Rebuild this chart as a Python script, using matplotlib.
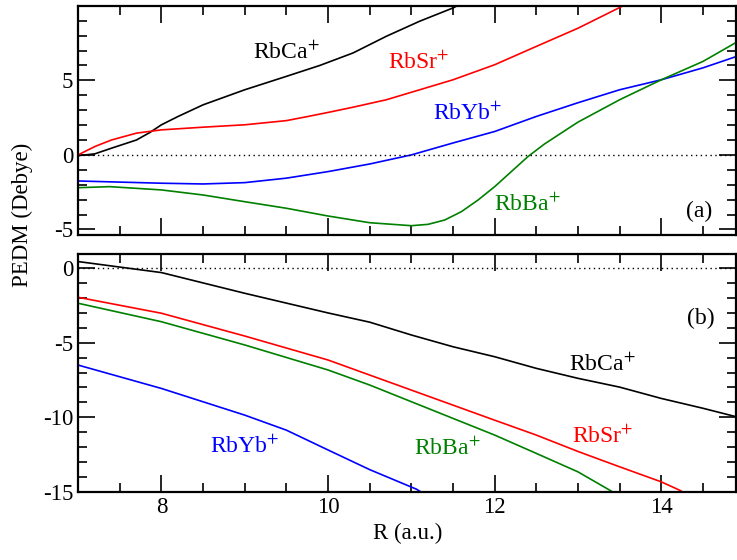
import numpy as np
import matplotlib.pyplot as plt
from matplotlib.ticker import MultipleLocator

plt.rcParams['font.family'] = ['Liberation Serif', 'DejaVu Serif']
plt.rcParams['mathtext.fontset'] = 'stix'
plt.rcParams['font.size'] = 16.5
plt.rcParams['axes.unicode_minus'] = False

# (a) upper panel
ca_a_r = [7.0, 7.2, 7.4, 7.7, 7.86, 8.0, 8.2, 8.5, 9.0, 9.5, 9.9, 10.3, 10.7, 11.1, 11.5, 11.6]
ca_a_d = [-0.05, 0.07, 0.45, 1.0, 1.5, 2.02, 2.58, 3.36, 4.37, 5.27, 6.0, 6.84, 7.96, 8.97, 9.86, 10.15]

sr_a_r = [7.0, 7.2, 7.4, 7.7, 8.0, 8.5, 9.0, 9.5, 9.76, 10.0, 10.3, 10.7, 11.1, 11.5, 12.0, 12.5,
          13.0, 13.54, 13.65]
sr_a_d = [0.0, 0.56, 1.0, 1.46, 1.68, 1.86, 2.02, 2.3, 2.58, 2.85, 3.2, 3.7, 4.37, 5.04, 6.05, 7.28,
          8.5, 10.0, 10.3]

yb_a_r = [7.0, 8.0, 8.5, 9.0, 9.5, 10.0, 10.5, 11.0, 11.5, 12.0, 12.5, 13.0, 13.5, 14.0, 14.5, 14.9]
yb_a_d = [-1.75, -1.9, -1.95, -1.86, -1.56, -1.12, -0.61, 0.0, 0.8, 1.57, 2.58, 3.5, 4.37, 5.04, 5.84, 6.6]

ba_a_r = [7.0, 7.38, 8.0, 8.5, 9.0, 9.5, 10.0, 10.5, 11.0, 11.2, 11.4, 11.6, 11.8, 12.0, 12.2, 12.4,
          12.6, 13.0, 13.5, 14.0, 14.5, 14.9]
ba_a_d = [-2.2, -2.13, -2.35, -2.69, -3.14, -3.58, -4.1, -4.55, -4.75, -4.66, -4.37, -3.81, -3.03, -2.13,
          -1.12, -0.11, 0.74, 2.2, 3.7, 5.04, 6.27, 7.55]

# (b) lower panel
ca_b_r = [7.0, 8.0, 9.0, 10.0, 10.5, 11.0, 11.5, 12.0, 12.5, 13.0, 13.5, 14.0, 14.5, 14.9]
ca_b_d = [0.45, -0.29, -1.68, -3.0, -3.62, -4.48, -5.27, -5.94, -6.72, -7.39, -7.98, -8.74, -9.4, -9.97]

sr_b_r = [7.0, 8.0, 9.0, 10.0, 10.5, 11.0, 11.5, 12.0, 12.5, 13.0, 13.5, 14.0, 14.22, 14.4]
sr_b_d = [-1.95, -3.02, -4.55, -6.16, -7.17, -8.18, -9.19, -10.2, -11.2, -12.3, -13.33, -14.34, -14.9, -15.5]

ba_b_r = [7.0, 8.0, 9.0, 10.0, 10.5, 11.0, 11.5, 12.0, 12.5, 13.0, 13.36, 13.5]
ba_b_d = [-2.35, -3.59, -5.15, -6.83, -7.84, -8.96, -10.08, -11.2, -12.43, -13.67, -14.83, -15.3]

yb_b_r = [7.0, 8.0, 9.0, 9.5, 10.0, 10.5, 11.06, 11.2]
yb_b_d = [-6.5, -8.07, -9.86, -10.87, -12.2, -13.52, -14.83, -15.3]

fig = plt.figure(figsize=(7.37, 5.6), dpi=100)
ax1 = fig.add_axes([0.106, 0.581, 0.893, 0.408])
ax2 = fig.add_axes([0.106, 0.122, 0.893, 0.4245])

lw = 1.2
ax1.plot(ca_a_r, ca_a_d, color='black', lw=lw)
ax1.plot(sr_a_r, sr_a_d, color='red', lw=lw)
ax1.plot(yb_a_r, yb_a_d, color='blue', lw=lw)
ax1.plot(ba_a_r, ba_a_d, color='green', lw=lw)

ax2.plot(ca_b_r, ca_b_d, color='black', lw=lw)
ax2.plot(sr_b_r, sr_b_d, color='red', lw=lw)
ax2.plot(ba_b_r, ba_b_d, color='green', lw=lw)
ax2.plot(yb_b_r, yb_b_d, color='blue', lw=lw)

for ax in (ax1, ax2):
    ax.axhline(0, color='black', lw=1.0, ls=(0, (1, 2.5)))
    ax.set_xlim(7, 14.9)
    ax.xaxis.set_major_locator(MultipleLocator(2))
    ax.xaxis.set_minor_locator(MultipleLocator(0.5))
    ax.yaxis.set_major_locator(MultipleLocator(5))
    ax.yaxis.set_minor_locator(MultipleLocator(1))
    ax.tick_params(which='both', direction='in', top=True, right=True, width=1.2)
    ax.tick_params(which='major', length=12)
    ax.tick_params(which='minor', length=6.5)
    for s in ax.spines.values():
        s.set_linewidth(1.6)

ax1.set_ylim(-5.35, 9.98)
ax1.tick_params(labelbottom=False)
ax2.set_ylim(-15, 0.96)
ax2.set_xlabel('R (a.u.)', labelpad=4)
fig.text(0.031, 0.617, 'PEDM (Debye)', rotation=90, ha='center', va='center')

fs = 17
ax1.text(9.5, 6.86, 'RbCa$^{+}$', color='black', ha='center', va='center', fontsize=fs)
ax1.text(11.09, 6.19, 'RbSr$^{+}$', color='red', ha='center', va='center', fontsize=fs)
ax1.text(11.68, 2.8, 'RbYb$^{+}$', color='blue', ha='center', va='center', fontsize=fs)
ax1.text(12.39, -3.36, 'RbBa$^{+}$', color='green', ha='center', va='center', fontsize=fs)
ax1.text(14.46, -3.8, '(a)', ha='center', va='center', fontsize=fs)

ax2.text(13.29, -6.5, 'RbCa$^{+}$', color='black', ha='center', va='center', fontsize=fs)
ax2.text(13.3, -11.3, 'RbSr$^{+}$', color='red', ha='center', va='center', fontsize=fs)
ax2.text(11.43, -12.1, 'RbBa$^{+}$', color='green', ha='center', va='center', fontsize=fs)
ax2.text(9.0, -12.0, 'RbYb$^{+}$', color='blue', ha='center', va='center', fontsize=fs)
ax2.text(14.48, -3.34, '(b)', ha='center', va='center', fontsize=fs)

fig.savefig('out.png', dpi=100)
